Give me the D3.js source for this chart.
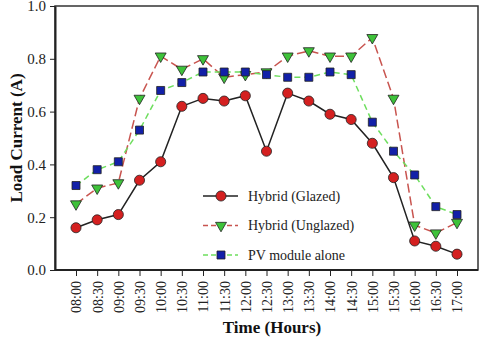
<!DOCTYPE html>
<html>
<head>
<meta charset="utf-8">
<script src="https://cdn.jsdelivr.net/npm/d3@7"></script>
<style>
  body { margin: 0; background: #fff; }
  text { font-family: "Liberation Serif", "Times New Roman", serif; }
</style>
</head>
<body>
<script>
// data
var times = ["08:00","08:30","09:00","09:30","10:00","10:30","11:00","11:30","12:00","12:30",
             "13:00","13:30","14:00","14:30","15:00","15:30","16:00","16:30","17:00"];
var glazed   = [0.16,0.19,0.21,0.34,0.41,0.62,0.65,0.64,0.66,0.45,0.67,0.64,0.59,0.57,0.48,0.35,0.11,0.09,0.06];
var unglazed = [0.25,0.31,0.33,0.65,0.81,0.76,0.80,0.73,0.74,0.75,0.81,0.83,0.81,0.81,0.88,0.65,0.17,0.14,0.18];
var pvAlone  = [0.32,0.38,0.41,0.53,0.68,0.71,0.75,0.75,0.75,0.74,0.73,0.73,0.75,0.74,0.56,0.45,0.36,0.24,0.21];
var yTicks = [0.0, 0.2, 0.4, 0.6, 0.8, 1.0];

function drawChart() {
  var w = 480, h = 340;
  var left = 55, right = 478, top = 6, bottom = 270;

  var svg = d3.select("body").append("svg")
    .attr("width", w)
    .attr("height", h);

  // x is a point scale over the time labels
  var xScale = d3.scalePoint()
    .domain(times)
    .range([76, 457]);
  var yScale = d3.scaleLinear()
    .domain([0, 1])
    .range([bottom, top]);

  // frame around the plot
  svg.append("rect")
    .attr("x", left).attr("y", top)
    .attr("width", right - left).attr("height", bottom - top)
    .attr("fill", "none")
    .attr("stroke", "#333")
    .attr("stroke-width", 1.5);

  var xAxis = d3.axisBottom(xScale).tickSize(6).tickSizeOuter(0);
  var gx = svg.append("g")
    .attr("transform", "translate(0," + bottom + ")")
    .call(xAxis);
  gx.select(".domain").attr("stroke", "#222").attr("stroke-width", 2)
    .attr("d", "M" + left + ",0H" + right);
  gx.selectAll(".tick line").attr("stroke", "#222");
  gx.selectAll(".tick text")
    .attr("transform", "rotate(-90)")
    .attr("text-anchor", "end")
    .attr("x", -11).attr("y", 0).attr("dy", "0.35em")
    .attr("font-size", "14px")
    .attr("fill", "#222");

  var yAxis = d3.axisLeft(yScale).tickValues(yTicks).tickFormat(d3.format(".1f")).tickSize(5).tickSizeOuter(0);
  var gy = svg.append("g")
    .attr("transform", "translate(" + left + ",0)")
    .call(yAxis);
  gy.select(".domain").attr("stroke", "#222").attr("stroke-width", 2);
  gy.selectAll(".tick line").attr("stroke", "#222");
  gy.selectAll(".tick text")
    .attr("x", -9)
    .attr("font-size", "15px")
    .attr("fill", "#222");

  var series = [
    { name: "Hybrid (Glazed)", values: glazed, line: "#222", dash: null, fill: "#d42020", marker: "circle" },
    { name: "Hybrid (Unglazed)", values: unglazed, line: "#c8544f", dash: "9,4", fill: "#3ec23a", marker: "triangle" },
    { name: "PV module alone", values: pvAlone, line: "#6ede5e", dash: "6,4", fill: "#1220a8", marker: "square" }
  ];

  var line = d3.line()
    .x(function(d, i) { return xScale(times[i]); })
    .y(function(d) { return yScale(d); });

  function symbolFor(m) {
    if (m === "circle") return d3.symbol().type(d3.symbolCircle).size(80)();
    if (m === "square") return d3.symbol().type(d3.symbolSquare).size(64)();
    return d3.symbol().type(d3.symbolTriangle).size(52)();
  }

  // draw series (unglazed, pv, then glazed on top)
  [series[1], series[2], series[0]].forEach(function(s) {
    svg.append("path")
      .datum(s.values)
      .attr("fill", "none")
      .attr("stroke", s.line)
      .attr("stroke-width", 1.5)
      .attr("stroke-dasharray", s.dash)
      .attr("d", line);
    svg.selectAll(null)
      .data(s.values)
      .enter()
      .append("path")
      .attr("d", symbolFor(s.marker))
      .attr("transform", function(d, i) {
        var rot = s.marker === "triangle" ? " rotate(180)" : "";
        return "translate(" + xScale(times[i]) + "," + yScale(d) + ")" + rot;
      })
      .attr("fill", s.fill)
      .attr("stroke", "#222")
      .attr("stroke-width", 0.8);
  });

  // legend
  var legend = svg.append("g");
  series.forEach(function(s, i) {
    var ly = 196 + i * 29.5;
    legend.append("line")
      .attr("x1", 203).attr("x2", 238)
      .attr("y1", ly).attr("y2", ly)
      .attr("stroke", s.line)
      .attr("stroke-width", 1.5)
      .attr("stroke-dasharray", s.dash ? "5,3" : null);
    legend.append("path")
      .attr("d", symbolFor(s.marker))
      .attr("transform", "translate(221," + ly + ")" + (s.marker === "triangle" ? " rotate(180)" : ""))
      .attr("fill", s.fill)
      .attr("stroke", "#222")
      .attr("stroke-width", 0.8);
    legend.append("text")
      .attr("x", 248).attr("y", ly)
      .attr("dy", "0.35em")
      .attr("font-size", "14px")
      .attr("fill", "#222")
      .text(s.name);
  });

  // axis labels
  svg.append("text")
    .attr("text-anchor", "middle")
    .attr("transform", "translate(272,333)")
    .attr("font-size", "17px")
    .attr("font-weight", "bold")
    .attr("fill", "#111")
    .text("Time (Hours)");
  svg.append("text")
    .attr("text-anchor", "middle")
    .attr("transform", "translate(22,138) rotate(-90)")
    .attr("font-size", "17px")
    .attr("font-weight", "bold")
    .attr("fill", "#111")
    .text("Load Current (A)");
}

window.onload = function() {
  drawChart();
};
</script>
</body>
</html>
